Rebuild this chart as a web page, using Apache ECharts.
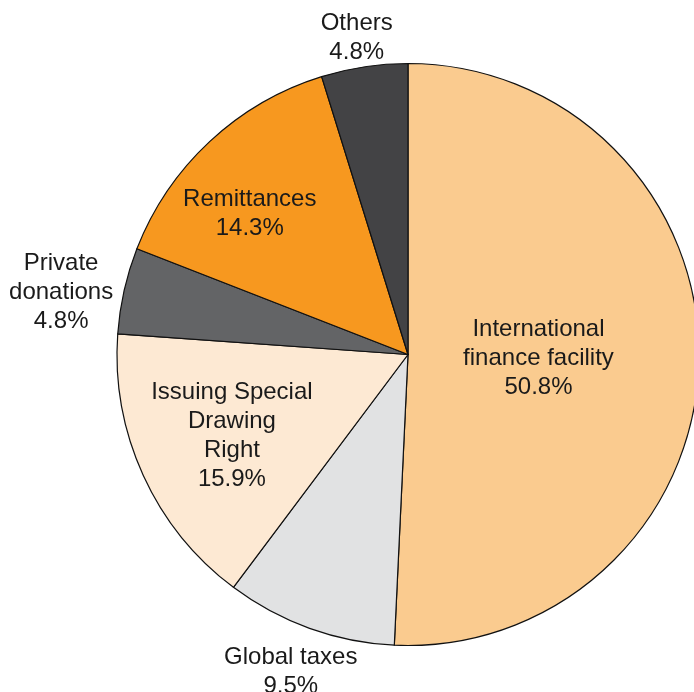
<!DOCTYPE html>
<html>
<head>
<meta charset="utf-8">
<script src="https://cdn.jsdelivr.net/npm/echarts@6/dist/echarts.min.js"></script>
<style>
  html, body { margin: 0; padding: 0; background: #ffffff; }
  #chart { width: 694px; height: 692px; }
</style>
</head>
<body>
<div id="chart"></div>
<script>
// Funding sources, clockwise from 12 o'clock
const categories = [
  'International\nfinance facility',
  'Global taxes',
  'Issuing Special\nDrawing\nRight',
  'Private\ndonations',
  'Remittances',
  'Others'
];
const shares = [50.8, 9.5, 15.9, 4.8, 14.3, 4.8];
const sliceColors = ['#FACB8F', '#E1E2E3', '#FDE9D3', '#636466', '#F7981F', '#434345'];
// Label nudges away from the default mid-radius anchor (pixels)
const labelShift = [
  [-18, 0],
  [-67, 178],
  [-41, 20],
  [-202, -30],
  [-57, -32],
  [-29, -170]
];

const chart = echarts.init(document.getElementById('chart'), null, { renderer: 'canvas' });

chart.setOption({
  backgroundColor: '#ffffff',
  animation: false,
  series: [{
    type: 'pie',
    center: [408, 354.5],
    radius: [0, 291],
    startAngle: 90,
    clockwise: true,
    avoidLabelOverlap: false,
    itemStyle: { borderColor: '#111111', borderWidth: 1.2 },
    emphasis: { disabled: true },
    label: {
      show: true,
      position: 'inside',
      fontFamily: '"Liberation Sans", Arial, sans-serif',
      fontSize: 24,
      lineHeight: 29,
      color: '#1a1a1a',
      align: 'center',
      formatter: p => p.name + '\n' + p.value.toFixed(1) + '%'
    },
    labelLine: { show: false },
    labelLayout: p => ({ dx: labelShift[p.dataIndex][0], dy: labelShift[p.dataIndex][1] }),
    data: categories.map((name, i) => ({
      name: name,
      value: shares[i],
      itemStyle: { color: sliceColors[i] }
    }))
  }]
});
</script>
</body>
</html>
